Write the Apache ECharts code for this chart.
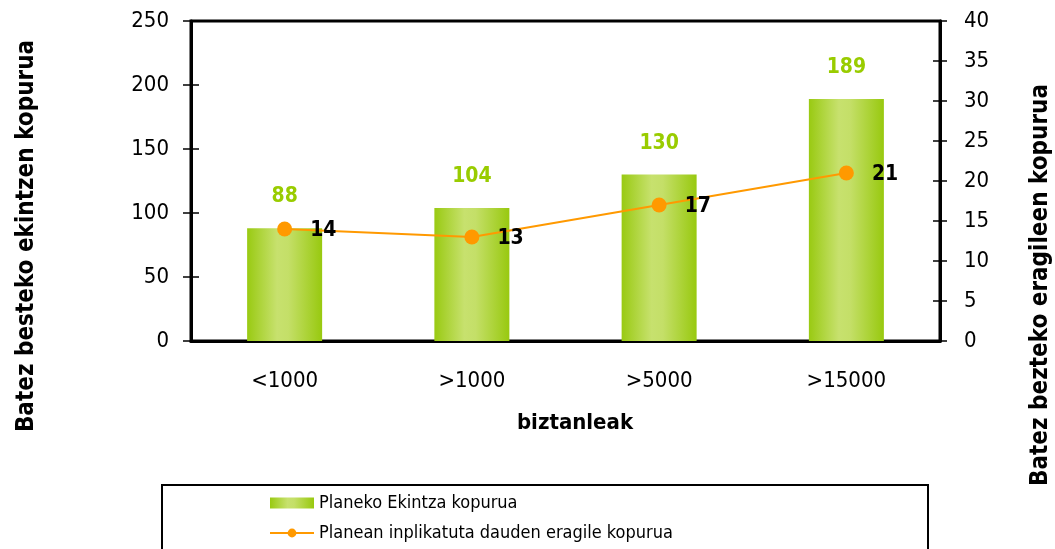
<!DOCTYPE html>
<html>
<head>
<meta charset="utf-8">
<script src="https://cdn.jsdelivr.net/npm/echarts@6/dist/echarts.min.js"></script>
<style>
  html, body { margin: 0; padding: 0; background: #fff; }
  #chart { width: 1055px; height: 549px; }
</style>
</head>
<body>
<div id="chart"></div>
<script>
// datos
var categories = ["<1000", ">1000", ">5000", ">15000"];
var ekintzak = [88, 104, 130, 189];   // Planeko Ekintza kopurua (eje izq.)
var eragileak = [14, 13, 17, 21];     // eragile kopurua (eje dcho.)
var leftTicks = { min: 0, max: 250, interval: 50 };
var rightTicks = { min: 0, max: 40, interval: 5 };

var font = "'DejaVu Sans Condensed', 'Liberation Sans Narrow', 'DejaVu Sans', sans-serif";

var barColor = new echarts.graphic.LinearGradient(0, 0, 1, 0, [
  { offset: 0, color: "#99ca12" },
  { offset: 0.4, color: "#c7e16e" },
  { offset: 0.55, color: "#c4df68" },
  { offset: 1, color: "#98c90f" }
]);

var tickStyle = { color: "#000", width: 1.5 };

var option = {
  animation: false,
  textStyle: { fontFamily: font },
  grid: {
    left: 191, right: 115, top: 21, bottom: 208,
    show: true, borderColor: "#000", borderWidth: 3
  },
  legend: {
    orient: "vertical",
    left: 269,
    top: 494,
    height: 90,
    padding: 0,
    itemWidth: 44,
    itemHeight: 11,
    itemGap: 12,
    textStyle: { fontFamily: font, fontSize: 18, color: "#000" },
    data: [
      { name: "Planeko Ekintza kopurua", icon: "rect" },
      { name: "Planean inplikatuta dauden eragile kopurua" }
    ]
  },
  xAxis: [
    {
      type: "category",
      data: categories,
      axisLine: { lineStyle: { color: "#000", width: 3 } },
      axisTick: { length: 7, lineStyle: tickStyle },
      axisLabel: { color: "#000", fontSize: 22, margin: 29, fontFamily: font }
    },
    {
      // ticks hacia dentro
      type: "category",
      data: categories,
      position: "bottom",
      axisLine: { show: false },
      axisTick: { inside: true, length: 7, lineStyle: tickStyle },
      axisLabel: { show: false }
    }
  ],
  yAxis: [
    {
      type: "value",
      min: leftTicks.min, max: leftTicks.max, interval: leftTicks.interval,
      position: "left",
      splitLine: { show: false },
      axisLine: { show: true, lineStyle: { color: "#000", width: 3 } },
      axisTick: { show: true, length: 8, lineStyle: tickStyle },
      axisLabel: { color: "#000", fontSize: 22, margin: 22, fontFamily: font }
    },
    {
      type: "value",
      min: rightTicks.min, max: rightTicks.max, interval: rightTicks.interval,
      position: "right",
      splitLine: { show: false },
      axisLine: { show: true, lineStyle: { color: "#000", width: 3 } },
      axisTick: { show: true, length: 7, lineStyle: tickStyle },
      axisLabel: { color: "#000", fontSize: 22, margin: 24, fontFamily: font }
    },
    {
      type: "value",
      min: leftTicks.min, max: leftTicks.max, interval: leftTicks.interval,
      position: "left",
      splitLine: { show: false },
      axisLine: { show: false },
      axisTick: { show: true, inside: true, length: 8, lineStyle: tickStyle },
      axisLabel: { show: false }
    },
    {
      type: "value",
      min: rightTicks.min, max: rightTicks.max, interval: rightTicks.interval,
      position: "right",
      splitLine: { show: false },
      axisLine: { show: false },
      axisTick: { show: true, inside: true, length: 7, lineStyle: tickStyle },
      axisLabel: { show: false }
    }
  ],
  series: [
    {
      name: "Planeko Ekintza kopurua",
      type: "bar",
      yAxisIndex: 0,
      barWidth: 75,
      itemStyle: { color: barColor },
      label: {
        show: true,
        position: "top",
        distance: 21,
        color: "#99cc00",
        fontWeight: "bold",
        fontSize: 21,
        fontFamily: font
      },
      data: ekintzak
    },
    {
      name: "Planean inplikatuta dauden eragile kopurua",
      type: "line",
      yAxisIndex: 1,
      symbol: "circle",
      symbolSize: 15,
      lineStyle: { color: "#ff9900", width: 2 },
      itemStyle: { color: "#ff9900" },
      label: {
        show: true,
        position: "right",
        distance: 18,
        offset: [0, 2],
        color: "#000",
        fontWeight: "bold",
        fontSize: 21,
        fontFamily: font
      },
      data: eragileak
    }
  ],
  graphic: [
    {
      type: "rect",
      shape: { x: 162, y: 485, width: 766, height: 90 },
      style: { fill: "none", stroke: "#000", lineWidth: 2 },
      z: -1
    },
    {
      type: "text",
      x: 27, y: 236,
      rotation: Math.PI / 2,
      style: {
        text: "Batez besteko ekintzen kopurua",
        font: "bold 24px " + font,
        fill: "#000",
        textAlign: "center",
        textVerticalAlign: "middle"
      }
    },
    {
      type: "text",
      x: 1041, y: 285,
      rotation: Math.PI / 2,
      style: {
        text: "Batez bezteko eragileen kopurua",
        font: "bold 24px " + font,
        fill: "#000",
        textAlign: "center",
        textVerticalAlign: "middle"
      }
    },
    {
      type: "text",
      x: 575, y: 423,
      style: {
        text: "biztanleak",
        font: "bold 22px " + font,
        fill: "#000",
        textAlign: "center",
        textVerticalAlign: "middle"
      }
    }
  ]
};

var myChart = echarts.init(document.getElementById("chart"));
myChart.setOption(option);
</script>
</body>
</html>
